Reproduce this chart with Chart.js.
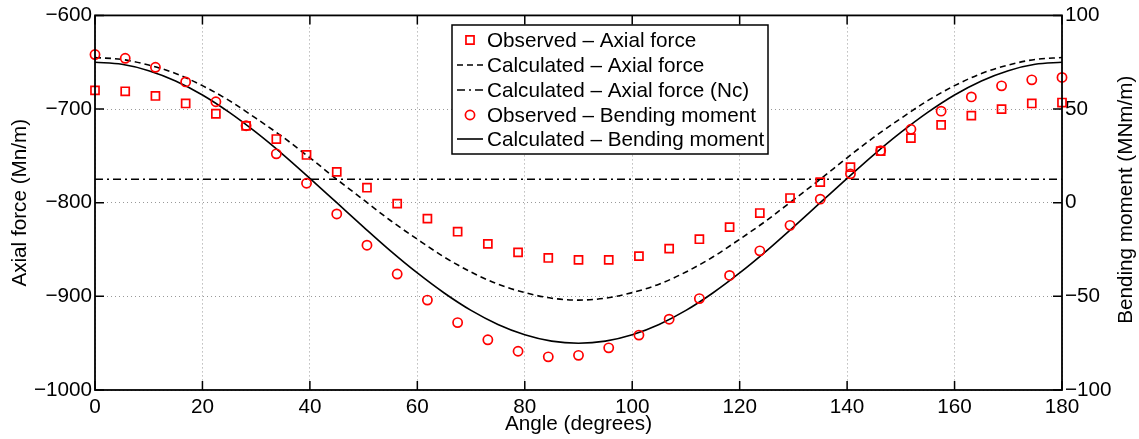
<!DOCTYPE html>
<html>
<head>
<meta charset="utf-8">
<script src="https://cdn.jsdelivr.net/npm/chart.js@4.4.1/dist/chart.umd.min.js"></script>
<style>
  html, body { margin: 0; padding: 0; background: #fff; }
  #wrap { width: 1139px; height: 439px; position: relative; }
</style>
</head>
<body>
<div id="wrap"><canvas id="c"></canvas></div>
<script>
// Measured angles (degrees) and observed values
const obsAngles = [0, 5.625, 11.25, 16.875, 22.5, 28.125, 33.75, 39.375, 45, 50.625, 56.25,
  61.875, 67.5, 73.125, 78.75, 84.375, 90, 95.625, 101.25, 106.875, 112.5, 118.125, 123.75,
  129.375, 135, 140.625, 146.25, 151.875, 157.5, 163.125, 168.75, 174.375, 180];
const obsAxial = [-680, -681, -686, -694, -705, -718, -732, -749, -767, -784, -801, -817, -831,
  -844, -853, -859, -861, -861, -857, -849, -839, -826, -811, -795, -778, -762, -745, -731,
  -717, -707, -700, -694, -693];
const obsMoment = [79.1, 77.1, 72.3, 64.5, 53.9, 41.1, 26.1, 10.4, -6.0, -22.7, -38.1, -52.0,
  -64.0, -73.2, -79.3, -82.3, -81.5, -77.5, -70.7, -62.2, -51.2, -38.8, -25.7, -12.1, 1.9,
  15.4, 27.8, 39.2, 48.9, 56.5, 62.4, 65.6, 66.9];

// Calculated curves
const calcAngles = [0, 5, 10, 15, 20, 25, 30, 35, 40, 45, 50, 55, 60, 65, 70, 75, 80, 85, 90,
  95, 100, 105, 110, 115, 120, 125, 130, 135, 140, 145, 150, 155, 160, 165, 170, 175, 180];
const calcAxial = [-645, -647, -653, -662, -675, -691, -710, -730, -752, -775, -797, -819, -839,
  -858, -874, -887, -896, -902, -904, -902, -896, -887, -874, -858, -839, -819, -797, -775,
  -752, -730, -710, -691, -675, -662, -653, -647, -645];
const calcMoment = [75, 73.9, 70.5, 65, 57.5, 48.2, 37.5, 25.7, 13, 0, -13, -25.7, -37.5, -48.2,
  -57.5, -65, -70.5, -73.9, -75, -73.9, -70.5, -65, -57.5, -48.2, -37.5, -25.7, -13, 0, 13,
  25.7, 37.5, 48.2, 57.5, 65, 70.5, 73.9, 75];

// Critical axial force (Nc)
const ncAngles = [0, 180];
const ncAxial = [-775, -775];

// Tick settings
const xTicks = { min: 0, max: 180, step: 20 };
const yLeftTicks = { min: -1000, max: -600, step: 100 };
const yRightTicks = { min: -100, max: 100, step: 50 };

const FONT = '"Liberation Sans", Arial, Helvetica, sans-serif';
const FONT_SIZE = 20.7;
const RED = '#ff0000';

const pts = (xs, ys) => xs.map((x, i) => ({ x, y: ys[i] }));
const minus = v => String(v).replace('-', '\u2212');

const datasets = [
  { label: 'Observed \u2013 Axial force', data: pts(obsAngles, obsAxial), yAxisID: 'y',
    showLine: false, pointStyle: 'rect', pointRadius: 5.7, pointBorderWidth: 1.7,
    pointBorderColor: RED, pointBackgroundColor: 'rgba(0,0,0,0)', borderColor: RED,
    clip: false, order: 1 },
  { label: 'Calculated \u2013 Axial force', data: pts(calcAngles, calcAxial), yAxisID: 'y',
    borderColor: '#000', borderWidth: 1.6, borderDash: [6, 4], pointRadius: 0,
    cubicInterpolationMode: 'monotone', fill: false, order: 3 },
  { label: 'Calculated \u2013 Axial force (Nc)', data: pts(ncAngles, ncAxial), yAxisID: 'y',
    borderColor: '#000', borderWidth: 1.6, borderDash: [8, 4, 2, 4], pointRadius: 0,
    fill: false, order: 4 },
  { label: 'Observed \u2013 Bending moment', data: pts(obsAngles, obsMoment), yAxisID: 'y2',
    showLine: false, pointStyle: 'circle', pointRadius: 4.6, pointBorderWidth: 1.7,
    pointBorderColor: RED, pointBackgroundColor: 'rgba(0,0,0,0)', borderColor: RED,
    clip: false, order: 0 },
  { label: 'Calculated \u2013 Bending moment', data: pts(calcAngles, calcMoment), yAxisID: 'y2',
    borderColor: '#000', borderWidth: 1.6, pointRadius: 0,
    cubicInterpolationMode: 'monotone', fill: false, order: 2 }
];

const gridStyle = { color: 'rgba(0,0,0,0.4)', lineWidth: 1, drawTicks: false };
const tickFont = { family: FONT, size: FONT_SIZE };

// Frame, inward tick marks, axis titles and the legend box
const decorations = {
  id: 'decorations',
  afterDraw(chart) {
    const { ctx, chartArea: a, scales } = chart;
    ctx.save();
    ctx.strokeStyle = '#000';
    ctx.lineWidth = 1.8;
    ctx.setLineDash([]);
    ctx.strokeRect(a.left, a.top, a.right - a.left, a.bottom - a.top);

    const TL = 9;
    ctx.lineWidth = 1.5;
    ctx.beginPath();
    scales.x.ticks.forEach(t => {
      const px = scales.x.getPixelForValue(t.value);
      ctx.moveTo(px, a.bottom); ctx.lineTo(px, a.bottom - TL);
      ctx.moveTo(px, a.top); ctx.lineTo(px, a.top + TL);
    });
    scales.y.ticks.forEach(t => {
      const py = scales.y.getPixelForValue(t.value);
      ctx.moveTo(a.left, py); ctx.lineTo(a.left + TL, py);
    });
    scales.y2.ticks.forEach(t => {
      const py = scales.y2.getPixelForValue(t.value);
      ctx.moveTo(a.right, py); ctx.lineTo(a.right - TL, py);
    });
    ctx.stroke();

    // Axis titles
    ctx.fillStyle = '#000';
    ctx.font = FONT_SIZE + 'px ' + FONT;
    ctx.textAlign = 'center';
    ctx.textBaseline = 'alphabetic';
    ctx.fillText('Angle (degrees)', (a.left + a.right) / 2, 430);
    const midY = (a.top + a.bottom) / 2;
    ctx.save();
    ctx.translate(26, midY);
    ctx.rotate(-Math.PI / 2);
    ctx.fillText('Axial force (Mn/m)', 0, 0);
    ctx.restore();
    ctx.save();
    ctx.translate(1132, midY - 3);
    ctx.rotate(-Math.PI / 2);
    ctx.fillText('Bending moment (MNm/m)', 0, 0);
    ctx.restore();

    // Legend
    const box = { x: 452, y: 25, w: 316, h: 129 };
    ctx.fillStyle = '#fff';
    ctx.fillRect(box.x, box.y, box.w, box.h);
    ctx.strokeStyle = '#000';
    ctx.lineWidth = 1.5;
    ctx.strokeRect(box.x, box.y, box.w, box.h);
    const rowY = [40, 65, 90, 115, 139];
    chart.data.datasets.forEach((ds, i) => {
      const y = rowY[i];
      const x0 = 457, x1 = 483, xm = (x0 + x1) / 2;
      ctx.save();
      if (ds.showLine === false) {
        ctx.strokeStyle = ds.pointBorderColor;
        ctx.lineWidth = ds.pointBorderWidth;
        ctx.beginPath();
        if (ds.pointStyle === 'rect') {
          const s = ds.pointRadius * Math.SQRT1_2;
          ctx.rect(xm - s, y - s, 2 * s, 2 * s);
        } else {
          ctx.arc(xm, y, ds.pointRadius, 0, Math.PI * 2);
        }
        ctx.stroke();
      } else {
        ctx.strokeStyle = ds.borderColor;
        ctx.lineWidth = ds.borderWidth;
        ctx.setLineDash(ds.borderDash || []);
        ctx.beginPath();
        ctx.moveTo(x0, y); ctx.lineTo(x1, y);
        ctx.stroke();
      }
      ctx.restore();
      ctx.fillStyle = '#000';
      ctx.textAlign = 'left';
      ctx.textBaseline = 'middle';
      ctx.fillText(ds.label, 487, y + 1);
    });
    ctx.restore();
  }
};

new Chart(document.getElementById('c'), {
  type: 'line',
  data: { datasets },
  options: {
    responsive: true,
    maintainAspectRatio: false,
    animation: false,
    events: [],
    layout: { padding: { top: 15, left: 0, right: 0, bottom: 0 } },
    plugins: { legend: { display: false }, tooltip: { enabled: false } },
    scales: {
      x: {
        type: 'linear', min: xTicks.min, max: xTicks.max,
        ticks: { stepSize: xTicks.step, padding: 5, color: '#000', font: tickFont,
          maxRotation: 0, autoSkip: false, callback: minus },
        grid: gridStyle,
        border: { display: false, dash: [1, 3] },
        afterFit(s) { s.height = 49; }
      },
      y: {
        type: 'linear', position: 'left', min: yLeftTicks.min, max: yLeftTicks.max,
        ticks: { stepSize: yLeftTicks.step, padding: 3, color: '#000', font: tickFont,
          callback: minus },
        grid: gridStyle,
        border: { display: false, dash: [1, 3] },
        afterFit(s) { s.width = 95; }
      },
      y2: {
        type: 'linear', position: 'right', min: yRightTicks.min, max: yRightTicks.max,
        ticks: { stepSize: yRightTicks.step, padding: 3, color: '#000', font: tickFont,
          callback: minus },
        grid: { drawOnChartArea: false, drawTicks: false },
        border: { display: false },
        afterFit(s) { s.width = 77; }
      }
    }
  },
  plugins: [decorations]
});
</script>
</body>
</html>
